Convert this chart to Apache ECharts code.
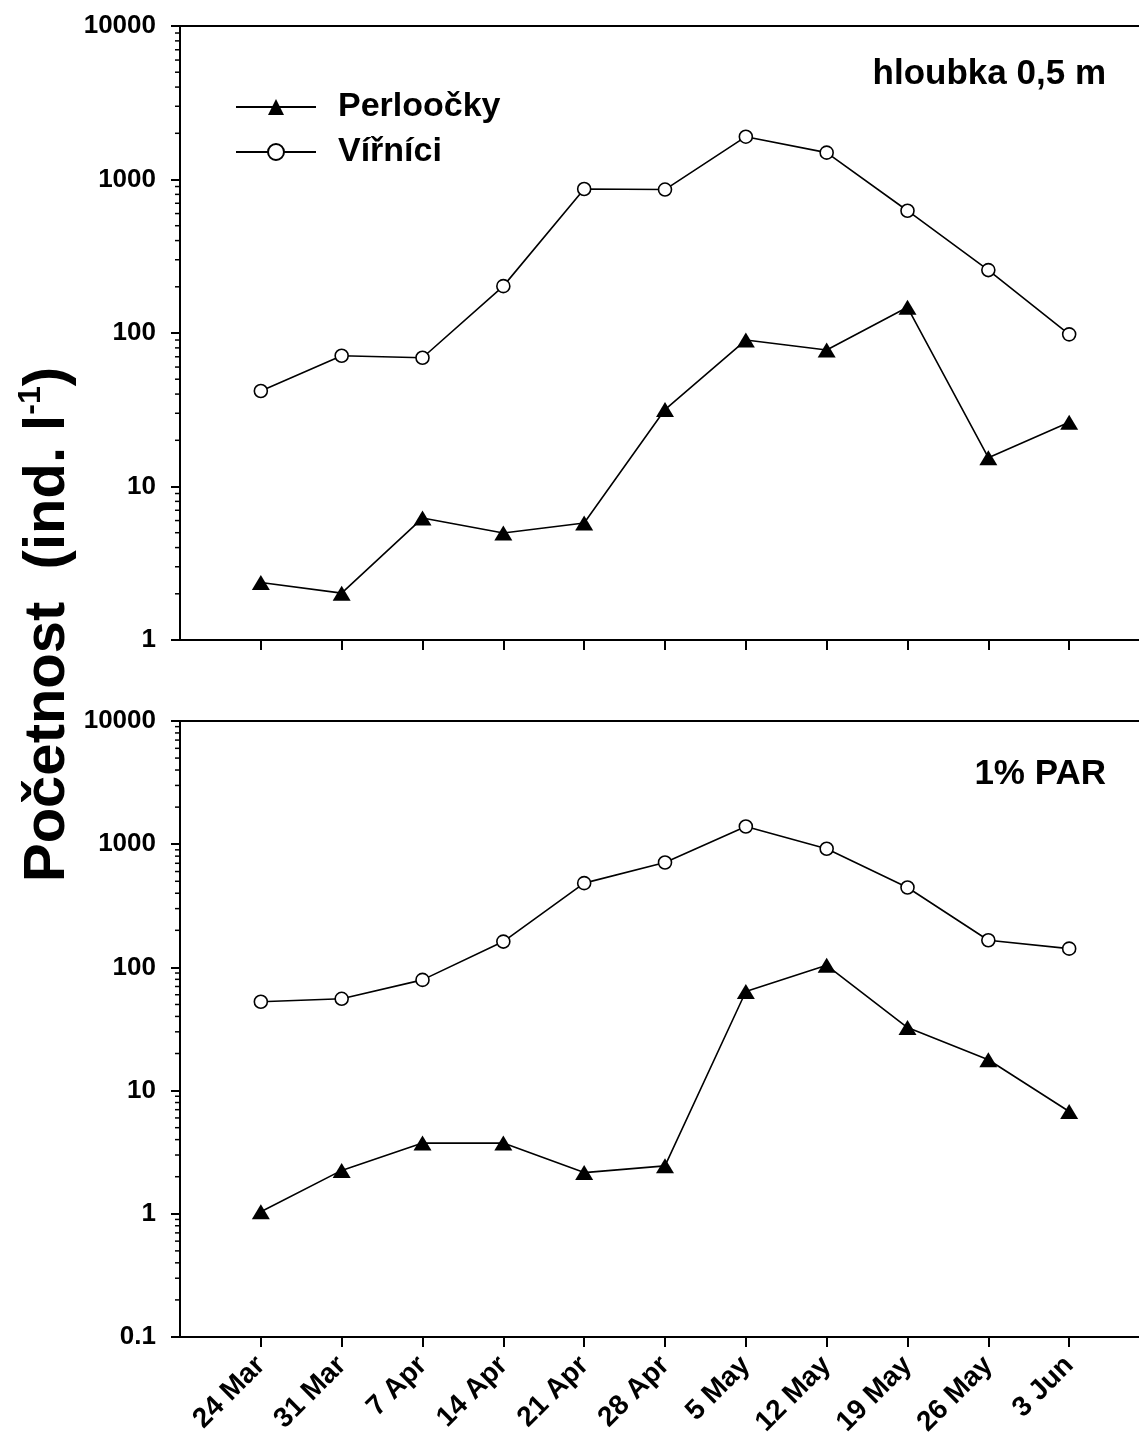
<!DOCTYPE html>
<html>
<head>
<meta charset="utf-8">
<script src="https://cdn.jsdelivr.net/npm/echarts@6/dist/echarts.min.js"></script>
<style>
html,body{margin:0;padding:0;background:#fff;}
#chart{width:1139px;height:1438px;}
</style>
</head>
<body>
<div id="chart"></div>
<script>
// ---- data ----
const dates = ['24 Mar','31 Mar','7 Apr','14 Apr','21 Apr','28 Apr','5 May','12 May','19 May','26 May','3 Jun'];
const perloockyTop = [2.37, 2.02, 6.23, 4.98, 5.78, 31.7, 90, 77.5, 147, 15.4, 26.2];
const virniciTop = [41.9, 71.1, 69.0, 202, 867, 860, 1901, 1496, 626, 257, 98];
const perloockyBottom = [1.04, 2.25, 3.75, 3.75, 2.16, 2.45, 63.7, 104, 32.5, 17.8, 6.77];
const virniciBottom = [52.6, 55.6, 79.2, 162, 483, 710, 1393, 918, 445, 166, 142];
const seriesNames = ['Perloočky', 'Vířníci'];
const panelLabels = ['hloubka 0,5 m', '1% PAR'];
const yTopRange = [1, 10000];
const yBottomRange = [0.1, 10000];

const FONT = 'Liberation Sans, Arial, Helvetica, sans-serif';
const axisCats = [''].concat(dates).concat([' ']);

function minorValues(lo, hi) {
  const out = [];
  for (let d = lo; d < hi; d *= 10) {
    for (let m = 2; m <= 9; m++) out.push([0, +(m * d).toPrecision(3)]);
  }
  return out;
}
function toPairs(arr) { return arr.map((v, i) => [i + 1, v]); }

const chart = echarts.init(document.getElementById('chart'), null, {renderer: 'canvas'});

const gridCommon = {left: 180, width: 970, show: true, borderColor: '#000', borderWidth: 2,
  backgroundColor: 'transparent', containLabel: false, outerBoundsMode: 'none'};

function xAxisDef(idx, showLabels) {
  return {
    type: 'category', gridIndex: idx, data: axisCats, boundaryGap: false,
    axisLine: {lineStyle: {color: '#000', width: 2}},
    axisTick: {show: true, inside: false, length: 10, lineStyle: {color: '#000', width: 2},
      interval: function (i) { return i > 0 && i < axisCats.length - 1; }},
    axisLabel: {show: showLabels, interval: 0, rotate: 45, margin: 24, hideOverlap: false,
      fontSize: 28, fontWeight: 'bold', color: '#000', fontFamily: FONT},
    splitLine: {show: false}
  };
}
function yAxisDef(idx, range) {
  return {
    type: 'log', logBase: 10, gridIndex: idx, min: range[0], max: range[1],
    axisLine: {show: true, lineStyle: {color: '#000', width: 2}},
    axisTick: {show: true, inside: false, length: 9, lineStyle: {color: '#000', width: 2}},
    axisLabel: {margin: 24, fontSize: 26, fontWeight: 'bold', color: '#000', fontFamily: FONT,
      formatter: function (v) { return v < 1 ? String(+v.toPrecision(2)) : String(Math.round(v)); }},
    splitLine: {show: false},
    minorTick: {show: false}
  };
}

function lineSeries(name, data, idx, isTriangle) {
  return {
    name: name, type: 'line', xAxisIndex: idx, yAxisIndex: idx, data: toPairs(data),
    symbol: isTriangle ? 'triangle' : 'circle',
    symbolSize: isTriangle ? [18, 15] : 13,
    lineStyle: {color: '#000', width: 1.6},
    itemStyle: isTriangle ? {color: '#000', borderColor: '#000', borderWidth: 0}
                          : {color: '#fff', borderColor: '#000', borderWidth: 1.6},
    emphasis: {disabled: true}, animation: false, z: 5
  };
}
function minorTickSeries(idx, range) {
  return {
    type: 'custom', xAxisIndex: idx, yAxisIndex: idx, data: minorValues(range[0], range[1]),
    clip: false, silent: true, animation: false, z: 6,
    encode: {x: 0, y: 1},
    renderItem: function (params, api) {
      const p = api.coord([0, api.value(1)]);
      return {type: 'line', shape: {x1: p[0] - 5, y1: p[1], x2: p[0], y2: p[1]},
        style: {stroke: '#000', lineWidth: 1.5}};
    }
  };
}

const option = {
  animation: false,
  backgroundColor: '#fff',
  textStyle: {fontFamily: FONT},
  grid: [
    Object.assign({top: 26, height: 614}, gridCommon),
    Object.assign({top: 721, height: 616}, gridCommon)
  ],
  xAxis: [xAxisDef(0, false), xAxisDef(1, true)],
  yAxis: [yAxisDef(0, yTopRange), yAxisDef(1, yBottomRange)],
  legend: {
    data: seriesNames, orient: 'vertical', left: 235, top: 87, padding: 0,
    itemWidth: 80, itemHeight: 20, itemGap: 5, selectedMode: false,
    textStyle: {fontSize: 34, fontWeight: 'bold', color: '#000', fontFamily: FONT, lineHeight: 40, padding: [0, 0, 0, 17]}
  },
  graphic: [
    {type: 'text', right: 33, top: 57, style: {text: panelLabels[0], font: 'bold 35px ' + FONT, fill: '#000'}},
    {type: 'text', right: 33, top: 757, style: {text: panelLabels[1], font: 'bold 35px ' + FONT, fill: '#000'}},
    {type: 'text', x: 48, y: 882, rotation: Math.PI / 2,
      style: {
        text: '{a|Početnost  (ind. l}{s|-1}{a|)}',
        align: 'left', verticalAlign: 'middle', fill: '#000',
        rich: {
          a: {fontSize: 58, fontWeight: 'bold', fontFamily: FONT, lineHeight: 66},
          s: {fontSize: 32, fontWeight: 'bold', fontFamily: FONT, verticalAlign: 'top', lineHeight: 66, padding: [0, 0, 24, 0]}
        }
      }}
  ],
  series: [
    lineSeries(seriesNames[0], perloockyTop, 0, true),
    lineSeries(seriesNames[1], virniciTop, 0, false),
    lineSeries(seriesNames[0], perloockyBottom, 1, true),
    lineSeries(seriesNames[1], virniciBottom, 1, false),
    minorTickSeries(0, yTopRange),
    minorTickSeries(1, yBottomRange)
  ]
};
chart.setOption(option);
</script>
</body>
</html>
